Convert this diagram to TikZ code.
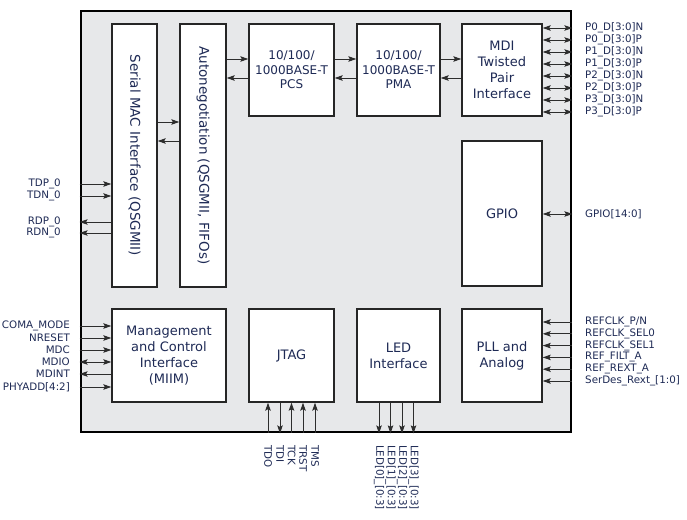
\documentclass[tikz,border=0pt]{standalone}
\usepackage{fontspec}
\setmainfont{DejaVu Sans}
\usepackage{xcolor}
\usetikzlibrary{arrows.meta, positioning, calc}
\definecolor{labelblue}{RGB}{30,42,85}
\definecolor{chipgray}{RGB}{231,232,234}
\definecolor{wirecol}{RGB}{45,45,45}
\tikzset{
  >={Stealth[length=8pt,width=5.5pt,inset=1.5pt]},
  blk/.style={draw=black!85, line width=1.4pt, fill=white, inner sep=0pt, align=center,
    text=labelblue, font=\fontsize{13}{16}\selectfont},
  vtxt/.style={rotate=-90, text=labelblue, font=\fontsize{13.5}{16}\selectfont},
  wire/.style={draw=wirecol, line width=0.9pt},
  pinlbl/.style={text=labelblue, font=\fontsize{10.3}{12}\selectfont, inner sep=0pt},
}

\begin{document}
\begin{tikzpicture}[x=1pt, y=-1pt]
\useasboundingbox (0,0) rectangle (687,519);
\node[draw=black, line width=2.8pt, fill=chipgray, minimum width=490pt, minimum height=421pt] (chip) at (326,221.5) {};

% blocks
\node[blk, minimum width=45pt, minimum height=263pt] (mac) at (134.5,155.5) {};
\node[vtxt] (mactxt) at (mac.center) {Serial MAC Interface (QSGMII)};
\node[blk, minimum width=46pt, minimum height=263pt] (aneg) at (203,155.5) {};
\node[vtxt] (anegtxt) at (aneg.center) {Autonegotiation (QSGMII, FIFOs)};
\node[blk, minimum width=85pt, minimum height=92pt, font=\fontsize{12}{14.5}\selectfont] (pcs) at (291.5,70) {10/100/\\1000BASE-T\\PCS};
\node[blk, minimum width=83pt, minimum height=92pt, font=\fontsize{12}{14.5}\selectfont] (pma) at (398.5,70) {10/100/\\1000BASE-T\\PMA};
\node[blk, minimum width=80pt, minimum height=92pt] (mdi) at (502,70) {MDI\\Twisted\\Pair\\Interface};
\node[blk, minimum width=80pt, minimum height=145pt] (gpio) at (502,213.5) {GPIO};
\node[blk, minimum width=114pt, minimum height=93pt] (mgmt) at (169,355.5) {Management\\and Control\\Interface\\(MIIM)};
\node[blk, minimum width=85pt, minimum height=93pt] (jtag) at (291.5,355.5) {JTAG};
\node[blk, minimum width=83pt, minimum height=93pt] (led) at (398.5,355.5) {LED\\Interface};
\node[blk, minimum width=80pt, minimum height=93pt] (pll) at (502,355.5) {PLL and\\Analog};

% internal data paths
\draw[wire, ->] ([yshift=33.5pt]mac.east) -- ([yshift=33.5pt]mac.east -| aneg.west);
\draw[wire, <-] ([yshift=14.5pt]mac.east) -- ([yshift=14.5pt]mac.east -| aneg.west);
\draw[wire, ->] ([yshift=11pt]aneg.east |- pcs.west) -- ([yshift=11pt]pcs.west);
\draw[wire, <-] ([yshift=-8pt]aneg.east |- pcs.west) -- ([yshift=-8pt]pcs.west);
\draw[wire, ->] ([yshift=11pt]pcs.east) -- ([yshift=11pt]pma.west);
\draw[wire, <-] ([yshift=-8pt]pcs.east) -- ([yshift=-8pt]pma.west);
\draw[wire, ->] ([yshift=11pt]pma.east) -- ([yshift=11pt]mdi.west);
\draw[wire, <-] ([yshift=-8pt]pma.east) -- ([yshift=-8pt]mdi.west);

% twisted pair pins
\node[pinlbl, anchor=west] (p0n) at (585,28) {P0\_D[3:0]N};
\node[pinlbl, anchor=west] (p0p) at (585,40) {P0\_D[3:0]P};
\node[pinlbl, anchor=west] (p1n) at (585,52) {P1\_D[3:0]N};
\node[pinlbl, anchor=west] (p1p) at (585,64) {P1\_D[3:0]P};
\node[pinlbl, anchor=west] (p2n) at (585,76) {P2\_D[3:0]N};
\node[pinlbl, anchor=west] (p2p) at (585,88) {P2\_D[3:0]P};
\node[pinlbl, anchor=west] (p3n) at (585,100) {P3\_D[3:0]N};
\node[pinlbl, anchor=west] (p3p) at (585,112) {P3\_D[3:0]P};
\draw[wire, <->] (mdi.east |- p0n) -- (chip.east |- p0n);
\draw[wire, <->] (mdi.east |- p0p) -- (chip.east |- p0p);
\draw[wire, <->] (mdi.east |- p1n) -- (chip.east |- p1n);
\draw[wire, <->] (mdi.east |- p1p) -- (chip.east |- p1p);
\draw[wire, <->] (mdi.east |- p2n) -- (chip.east |- p2n);
\draw[wire, <->] (mdi.east |- p2p) -- (chip.east |- p2p);
\draw[wire, <->] (mdi.east |- p3n) -- (chip.east |- p3n);
\draw[wire, <->] (mdi.east |- p3p) -- (chip.east |- p3p);

% gpio
\node[pinlbl, anchor=west] (gpiopin) at (585,214) {GPIO[14:0]};
\draw[wire, <->] (gpio.east |- gpiopin) -- (chip.east |- gpiopin);

% pll pins
\node[pinlbl, anchor=west] (refclk) at (585,322) {REFCLK\_P/N};
\node[pinlbl, anchor=west] (sel0) at (585,333.8) {REFCLK\_SEL0};
\node[pinlbl, anchor=west] (sel1) at (585,345.6) {REFCLK\_SEL1};
\node[pinlbl, anchor=west] (filt) at (585,357.4) {REF\_FILT\_A};
\node[pinlbl, anchor=west] (rext) at (585,369.2) {REF\_REXT\_A};
\node[pinlbl, anchor=west] (serdes) at (585,381) {SerDes\_Rext\_[1:0]};
\draw[wire, <-] (pll.east |- refclk) -- (chip.east |- refclk);
\draw[wire, <-] (pll.east |- sel0) -- (chip.east |- sel0);
\draw[wire, <-] (pll.east |- sel1) -- (chip.east |- sel1);
\draw[wire, <-] (pll.east |- filt) -- (chip.east |- filt);
\draw[wire, <-] (pll.east |- rext) -- (chip.east |- rext);
\draw[wire, <-] (pll.east |- serdes) -- (chip.east |- serdes);

% serdes pins
\node[pinlbl, anchor=east] (tdp) at (61,184) {TDP\_0};
\node[pinlbl, anchor=east] (tdn) at (61,196) {TDN\_0};
\node[pinlbl, anchor=east] (rdp) at (61,222) {RDP\_0};
\node[pinlbl, anchor=east] (rdn) at (61,233) {RDN\_0};
\draw[wire, ->] (chip.west |- tdp) -- (mac.west |- tdp);
\draw[wire, ->] (chip.west |- tdn) -- (mac.west |- tdn);
\draw[wire, <-] (chip.west |- rdp) -- (mac.west |- rdp);
\draw[wire, <-] (chip.west |- rdn) -- (mac.west |- rdn);

% management pins
\node[pinlbl, anchor=east] (coma) at (70,326) {COMA\_MODE};
\node[pinlbl, anchor=east] (nreset) at (70,338) {NRESET};
\node[pinlbl, anchor=east] (mdc) at (70,350) {MDC};
\node[pinlbl, anchor=east] (mdio) at (70,362) {MDIO};
\node[pinlbl, anchor=east] (mdint) at (70,374) {MDINT};
\node[pinlbl, anchor=east] (phyadd) at (70,387) {PHYADD[4:2]};
\draw[wire, ->] (chip.west |- coma) -- (mgmt.west |- coma);
\draw[wire, ->] (chip.west |- nreset) -- (mgmt.west |- nreset);
\draw[wire, ->] (chip.west |- mdc) -- (mgmt.west |- mdc);
\draw[wire, <->] (chip.west |- mdio) -- (mgmt.west |- mdio);
\draw[wire, <-] (chip.west |- mdint) -- (mgmt.west |- mdint);
\draw[wire, ->] (chip.west |- phyadd) -- (mgmt.west |- phyadd);

% jtag pins
\node[pinlbl, rotate=-90, anchor=west] (tdo) at (268,445) {TDO};
\node[pinlbl, rotate=-90, anchor=west] (tdi) at (280,445) {TDI};
\node[pinlbl, rotate=-90, anchor=west] (tck) at (291.5,445) {TCK};
\node[pinlbl, rotate=-90, anchor=west] (trst) at (303,445) {TRST};
\node[pinlbl, rotate=-90, anchor=west] (tms) at (315,445) {TMS};
\draw[wire, <-] (jtag.south -| tdo) -- (chip.south -| tdo);
\draw[wire, ->] (jtag.south -| tdi) -- (chip.south -| tdi);
\draw[wire, <-] (jtag.south -| tck) -- (chip.south -| tck);
\draw[wire, <-] (jtag.south -| trst) -- (chip.south -| trst);
\draw[wire, <-] (jtag.south -| tms) -- (chip.south -| tms);

% led pins
\node[pinlbl, rotate=-90, anchor=west] (led0) at (379,445) {LED[0]\_[0:3]};
\node[pinlbl, rotate=-90, anchor=west] (led1) at (390.5,445) {LED[1]\_[0:3]};
\node[pinlbl, rotate=-90, anchor=west] (led2) at (402,445) {LED[2]\_[0:3]};
\node[pinlbl, rotate=-90, anchor=west] (led3) at (413.5,445) {LED[3]\_[0:3]};
\draw[wire, ->] (led.south -| led0) -- (chip.south -| led0);
\draw[wire, ->] (led.south -| led1) -- (chip.south -| led1);
\draw[wire, ->] (led.south -| led2) -- (chip.south -| led2);
\draw[wire, ->] (led.south -| led3) -- (chip.south -| led3);
\end{tikzpicture}
\end{document}
